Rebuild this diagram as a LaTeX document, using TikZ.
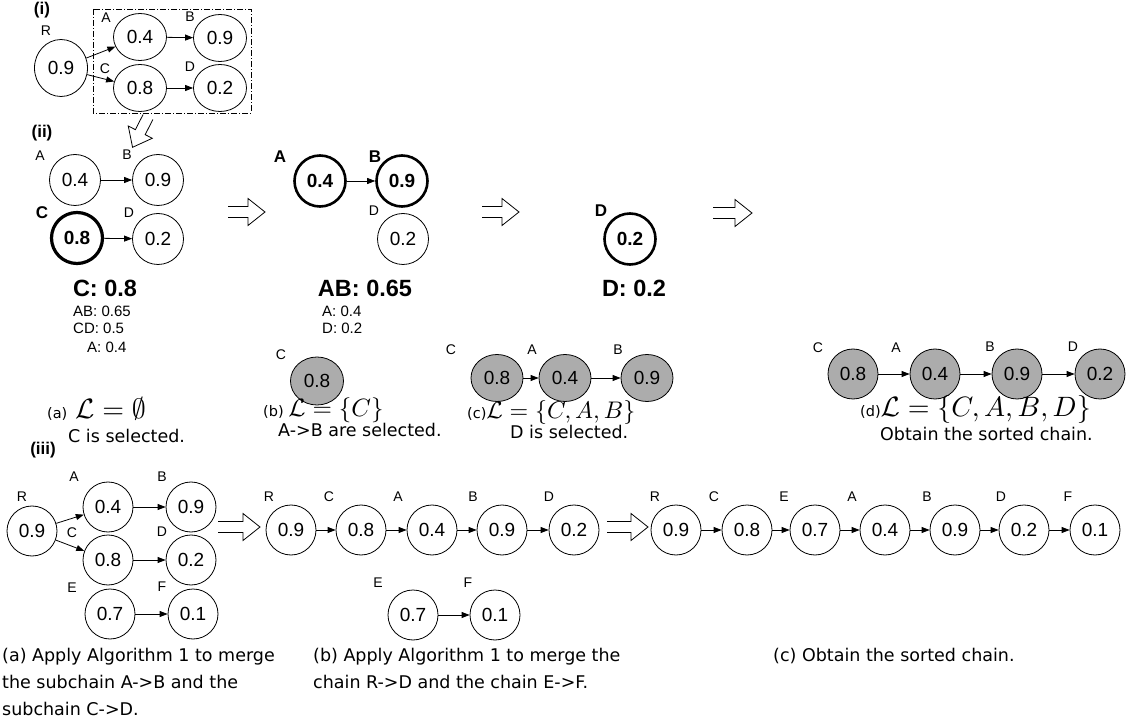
\documentclass[tikz,border=0pt]{standalone}
\usepackage[no-math]{fontspec}
\setmainfont{Liberation Sans}
\newfontfamily\capfont{DejaVu Sans}
\DeclareFontShape{OT1}{cmr}{m}{n}{<->cmr10}{}
\DeclareFontShape{OML}{cmm}{m}{it}{<->cmmi10}{}
\DeclareFontShape{OMS}{cmsy}{m}{n}{<->cmsy10}{}
\usetikzlibrary{arrows.meta,shapes.geometric}
\newcommand{\subtag}[1]{{\capfont\fontsize{14.5}{14.5}\selectfont #1}}

\tikzset{
  state/.style = {ellipse, draw, line width=0.8pt, minimum size=51pt, inner sep=0pt, font=\fontsize{19}{19}\selectfont},
  picked/.style = {state, line width=2.6pt, font=\fontsize{19}{19}\selectfont\bfseries},
  sorted/.style = {state, fill=gray!65},
  tag/.style = {inner sep=0pt, font=\fontsize{14}{14}\selectfont},
  boldtag/.style = {inner sep=0pt, font=\fontsize{17}{17}\selectfont\bfseries},
  score/.style = {inner sep=0pt, anchor=west, font=\fontsize{15}{15}\selectfont},
  best/.style = {inner sep=0pt, font=\fontsize{23.5}{23.5}\selectfont\bfseries},
  part/.style = {inner sep=0pt, font=\fontsize{17}{17}\selectfont\bfseries},
  note/.style = {inner sep=0pt, anchor=west, font=\capfont\fontsize{17.5}{27}\selectfont},
  setnote/.style = {inner sep=0pt, anchor=base west, font=\fontsize{#1}{#1}\selectfont},
  caption/.style = {inner sep=0pt, anchor=north west, align=left, font=\capfont\fontsize{17.5}{27}\selectfont},
  link/.style = {-{Triangle[length=8pt, width=6pt]}, line width=0.8pt},
  pics/hollow arrow/.style = {code = {
    \draw [line width=0.8pt, line join=miter] (0,-5.5) -- (#1-17,-5.5) -- (#1-17,-13.5) -- (#1,0)
      -- (#1-17,13.5) -- (#1-17,5.5) -- (0,5.5);}}
}

\begin{document}
\begin{tikzpicture}[x=1pt, y=-1pt]
	\useasboundingbox (0,0) rectangle (1128,719);

	% (i) input
	\node (i) at (42,10) [part] {(i)};
	\draw [line width=0.8pt, dash pattern=on 6pt off 2pt on 1pt off 2pt] (93,9) rectangle (251,113);
	\node (iR) at (61,68) [state, minimum width=53pt, minimum height=57pt] {0.9};
	\foreach \n/\x/\y/\val in {iA/140/37/0.4, iB/220/38/0.9, iC/140/88/0.8, iD/220/88/0.2}
		\node (\n) at (\x,\y) [state, minimum width=53pt, minimum height=47pt] {\val};
	\foreach \n/\x/\y/\txt in {iRt/46/31/R, iAt/106/18/A, iBt/190/17/B, iCt/105/69/C, iDt/190/67/D}
		\node (\n) at (\x,\y) [tag] {\txt};
	\foreach \from/\to in {iR/iA, iR/iC, iA/iB, iC/iD}
		\path (\from) edge [link] (\to);
	\pic [rotate=-117] at (148,117) {hollow arrow=34};

	% (ii) step (a)
	\node (ii) at (42,133) [part] {(ii)};
	\foreach \n/\x/\y/\val in {s1A/75/180/0.4, s1B/158/180/0.9, s1D/158/239/0.2}
		\node (\n) at (\x,\y) [state] {\val};
	\node (s1C) at (77,238) [picked, line width=3.2pt] {0.8};
	\foreach \n/\x/\y/\txt in {s1At/40/156/A, s1Bt/127/155/B, s1Dt/129/213/D}
		\node (\n) at (\x,\y) [tag] {\txt};
	\node (s1Ct) at (42,213) [boldtag] {C};
	\foreach \from/\to in {s1A/s1B, s1C/s1D}
		\path (\from) edge [link] (\to);
	\node (s1best) at (105,288) [best] {C: 0.8};
	\node (s1ab) at (73,311) [score] {AB: 0.65};
	\node (s1cd) at (73,328.5) [score] {CD: 0.5};
	\node (s1a) at (87,347) [score] {A: 0.4};
	\node (s1set) at (47,418) [setnote=28] {\subtag{(a)} $\mathcal{L}=\emptyset$};
	\node (s1note) at (68,436) [note] {C is selected.};
	\pic at (228,212) {hollow arrow=37};

	% (ii) step (b)
	\node (s2A) at (320,181) [picked] {0.4};
	\node (s2B) at (402,181) [picked] {0.9};
	\node (s2D) at (403,239) [state] {0.2};
	\node (s2At) at (280,157) [boldtag] {A};
	\node (s2Bt) at (375,157) [boldtag] {B};
	\node (s2Dt) at (374,211) [tag] {D};
	\path (s2A) edge [link] (s2B);
	\node (s2best) at (365,288) [best] {AB: 0.65};
	\node (s2a) at (322,311) [score] {A: 0.4};
	\node (s2d) at (322,328) [score] {D: 0.2};
	\node (s2C) at (317,381) [sorted, minimum width=53pt, minimum height=48pt] {0.8};
	\node (s2Ct) at (281,355) [tag] {C};
	\node (s2set) at (263,417) [setnote=25] {\subtag{(b) }$\mathcal{L}=\{C\}$};
	\node (s2note) at (278,430) [note] {A->B are selected.};
	\pic at (482,212) {hollow arrow=37};

	% (ii) step (c)
	\node (s3D) at (630,239) [picked] {0.2};
	\node (s3Dt) at (601,211) [boldtag] {D};
	\node (s3best) at (634,288) [best] {D: 0.2};
	\foreach \n/\x/\y/\val in {s3C/497/378/0.8, s3A/565/378/0.4, s3B/647/378/0.9}
		\node (\n) at (\x,\y) [sorted, minimum width=52pt, minimum height=47pt] {\val};
	\foreach \n/\x/\y/\txt in {s3Ct/451/350/C, s3At/532/350/A, s3Bt/618/350/B}
		\node (\n) at (\x,\y) [tag] {\txt};
	\foreach \from/\to in {s3C/s3A, s3A/s3B}
		\path (\from) edge [link] (\to);
	\node (s3set) at (467,418) [setnote=24] {\subtag{(c)}$\mathcal{L}=\{C,A,B\}$};
	\node (s3note) at (510,432) [note] {D is selected.};
	\pic at (713,213) {hollow arrow=39};

	% (ii) step (d)
	\foreach \n/\x/\y/\val in {s4C/853/374/0.8, s4A/935/374/0.4, s4B/1017/374/0.9, s4D/1100/374/0.2}
		\node (\n) at (\x,\y) [sorted, minimum size=50pt] {\val};
	\foreach \n/\x/\y/\txt in {s4Ct/818/348/C, s4At/896/348/A, s4Bt/990/347/B, s4Dt/1073/347/D}
		\node (\n) at (\x,\y) [tag] {\txt};
	\foreach \from/\to in {s4C/s4A, s4A/s4B, s4B/s4D}
		\path (\from) edge [link] (\to);
	\node (s4set) at (860,417) [setnote=28] {\subtag{(d)}$\mathcal{L}=\{C,A,B,D\}$};
	\node (s4note) at (880,434) [note] {Obtain the sorted chain.};

	% (iii) merging
	\node (iii) at (43,450) [part] {(iii)};
	\foreach \n/\x/\y/\val in {m1R/32/531/0.9, m1A/108/507/0.4, m1B/191/507/0.9, m1C/108/560/0.8,
		m1D/191/560/0.2, m1E/110/614/0.7, m1F/193/614/0.1}
		\node (\n) at (\x,\y) [state, minimum size=50pt] {\val};
	\foreach \n/\x/\y/\txt in {m1Rt/22/497/R, m1At/74/477/A, m1Bt/162/477/B, m1Ct/72/533/C,
		m1Dt/162/532/D, m1Et/72/588/E, m1Ft/162/587/F}
		\node (\n) at (\x,\y) [tag] {\txt};
	\foreach \from/\to in {m1R/m1A, m1R/m1C, m1A/m1B, m1C/m1D, m1E/m1F}
		\path (\from) edge [link] (\to);
	\pic at (218,527) {hollow arrow=42};
	\node (m1note) at (2,648) [caption] {(a) Apply Algorithm 1 to merge\\the subchain A->B and the\\subchain C->D.};

	\foreach \n/\x/\y/\val in {m2R/291/530/0.9, m2C/361/530/0.8, m2A/432/530/0.4, m2B/502/530/0.9,
		m2D/574/530/0.2, m2E/413/615/0.7, m2F/495/615/0.1}
		\node (\n) at (\x,\y) [state, minimum size=50pt] {\val};
	\foreach \n/\x/\y/\txt in {m2Rt/269/497/R, m2Ct/329/497/C, m2At/398/497/A, m2Bt/473/497/B,
		m2Dt/549/497/D, m2Et/378/583/E, m2Ft/468/583/F}
		\node (\n) at (\x,\y) [tag] {\txt};
	\foreach \from/\to in {m2R/m2C, m2C/m2A, m2A/m2B, m2B/m2D, m2E/m2F}
		\path (\from) edge [link] (\to);
	\pic at (607,527) {hollow arrow=41};
	\node (m2note) at (313,648) [caption] {(b) Apply Algorithm 1 to merge the\\chain R->D and the chain E->F.};

	\foreach \n/\x/\y/\val in {m3R/676/530/0.9, m3C/747/530/0.8, m3E/815/530/0.7, m3A/885/530/0.4,
		m3B/955/530/0.9, m3D/1024/530/0.2, m3F/1095/530/0.1}
		\node (\n) at (\x,\y) [state, minimum size=50pt] {\val};
	\foreach \n/\x/\y/\txt in {m3Rt/655/497/R, m3Ct/714/497/C, m3Et/784/497/E, m3At/852/497/A,
		m3Bt/927/497/B, m3Dt/1001/497/D, m3Ft/1068/497/F}
		\node (\n) at (\x,\y) [tag] {\txt};
	\foreach \from/\to in {m3R/m3C, m3C/m3E, m3E/m3A, m3A/m3B, m3B/m3D, m3D/m3F}
		\path (\from) edge [link] (\to);
	\node (m3note) at (773,648) [caption] {(c) Obtain the sorted chain.};

\end{tikzpicture}
\end{document}
